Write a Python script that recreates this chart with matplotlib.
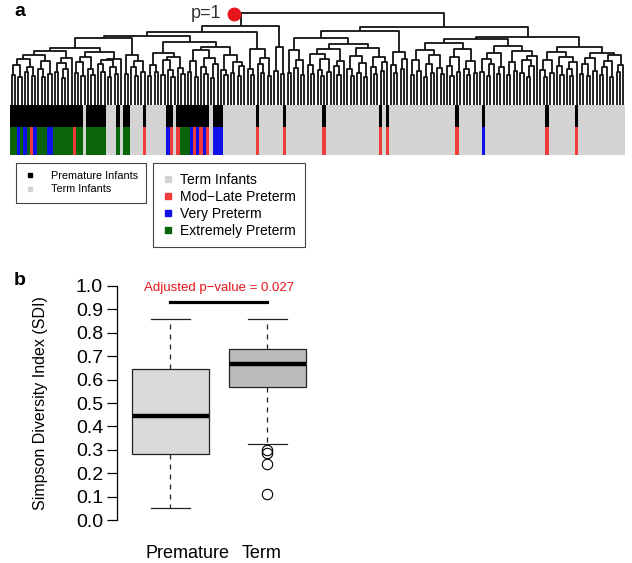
import numpy as np
import matplotlib.pyplot as plt
from matplotlib.collections import LineCollection
from matplotlib.colors import ListedColormap
from matplotlib.lines import Line2D

plt.rcParams['font.family'] = ['Liberation Sans', 'DejaVu Sans']

#%% panel a data
# gestational class of each leaf in dendrogram order
# E = extremely preterm, V = very preterm, M = mod-late preterm, T = term
leaf_class = ("EEVEVEMVEE" "EVVEEEEEEM" "EETEEEEEET" "TTETEETTTT"
              "MTTTTTTVMT" "MEEEVMVMVM" "TVVVTTTTTT" "TTTTMTTTTT"
              "TTMTTTTTTT" "TTTTMTTTTT" "TTTTTTTTTT" "TMTMTTTTTT"
              "TTTTTTTTTT" "TTTTMTTTTT" "TTVTTTTTTT" "TTTTTTTTTT"
              "TMTTTTTTTT" "MTTTTTTTTT" "TTTTT")

# merge height between neighbouring leaves (leaf k and k+1)
merge_heights = (
    [30, 40, 28, 46, 33, 38, 29, 50, 36, 28, 44, 31, 54, 33, 42, 27, 36, 47]
    + [57]
    + [32, 43, 29, 48, 36, 30, 53, 41, 33, 45, 28, 38, 31, 46]
    + [67]
    + [31, 50, 38, 29, 44, 33]
    + [69]
    + [29, 40, 33, 52, 30, 45, 35, 28, 48, 37, 31]
    + [63]
    + [33, 44, 28, 55, 38, 31, 47, 27, 41, 58, 35, 30, 50, 32, 43, 29, 39]
    + [73]
    + [36, 30, 56, 41, 32, 47, 29]
    + [79]
    + [34, 58, 31]
    + [92]
    + [32, 55, 37, 45, 30]
    + [67]
    + [40, 31, 51, 35, 29, 46, 33, 56, 39, 30, 44]
    + [61]
    + [36, 29, 49, 32, 42, 28, 57, 38, 31, 48, 34, 43]
    + [74]
    + [40, 32, 53, 36, 46]
    + [78]
    + [30, 45, 34, 55, 28, 41, 32, 50, 37, 31]
    + [62]
    + [39, 29, 48, 33, 56, 36, 30, 44, 32]
    + [66]
    + [33, 46, 29, 41, 52, 31, 38, 59, 30, 43, 34, 54, 32, 45, 28, 39, 49]
    + [68]
    + [35, 28, 45, 32, 53, 39, 30, 48, 36, 29, 43]
    + [58]
    + [31, 41, 29, 47, 34, 52, 30, 38, 44, 28, 50, 33, 40]
)
assert len(merge_heights) == len(leaf_class) - 1

class_codes = {'T': 0, 'M': 1, 'V': 2, 'E': 3}
strip_colors = ['#d3d3d3', '#ee3b3b', '#1010e8', '#0a640a', '#000000']
class_labels = ['Term Infants', 'Mod\u2212Late Preterm', 'Very Preterm',
                'Extremely Preterm']
group_labels = ['Premature Infants', 'Term Infants']

#%% panel b data
groups = ['Premature', 'Term']
whis_lo = [0.05, 0.325]
q1 = [0.282, 0.568]
medians = [0.446, 0.668]
q3 = [0.645, 0.731]
whis_hi = [0.859, 0.859]
outliers = [[], [0.299, 0.285, 0.238, 0.11]]
box_colors = ['#dadada', '#bcbcbc']
p_adj = 0.027
bar_y = 0.93

#%%
W, H = 632, 563
fig = plt.figure(figsize=(W / 100, H / 100), dpi=100)

def fax(x0, y0, x1, y1):
    # axes from pixel box (top-left origin)
    return fig.add_axes([x0 / W, 1 - y1 / H, (x1 - x0) / W, (y1 - y0) / H])

n = len(leaf_class)

# dendrogram
def build(lo, hi, paths):
    if lo == hi:
        return lo, 0.0
    s = lo + int(np.argmax(merge_heights[lo:hi]))
    h = merge_heights[s]
    xl, hl = build(lo, s, paths)
    xr, hr = build(s + 1, hi, paths)
    paths.append([(xl, hl), (xl, h), (xr, h), (xr, hr)])
    return (xl + xr) / 2, h

paths = []
build(0, n - 1, paths)
ax_d = fax(10, 5, 625, 105)
ax_d.add_collection(LineCollection(paths, colors='#111111', linewidths=1.3))
ax_d.set_xlim(-0.5, n - 0.5)
ax_d.set_ylim(0, 100)
ax_d.axis('off')
ax_d.plot([0.364], [0.91], 'o', color='#e8141c', markersize=9,
          transform=ax_d.transAxes, clip_on=False)
ax_d.text(0.343, 0.92, 'p=1', ha='right', va='center', fontsize=13,
          color='#333333', transform=ax_d.transAxes)

# colour strips
cls = np.array([class_codes[c] for c in leaf_class])
grp = np.where(cls > 0, 4, 0)
ax_s = fax(10, 105, 625, 155)
ax_s.pcolormesh(np.arange(n + 1) - 0.5, [0, 28, 50], np.vstack([cls, grp]),
                cmap=ListedColormap(strip_colors), vmin=-0.5, vmax=4.5)
ax_s.set_xlim(-0.5, n - 0.5)
ax_s.set_ylim(0, 50)
ax_s.axis('off')

h1 = [Line2D([], [], marker='s', ls='none', color=c, markersize=3.2)
      for c in [strip_colors[4], strip_colors[0]]]
fig.legend(h1, group_labels, loc='upper left',
           bbox_to_anchor=(16 / W, 1 - 163 / H), fontsize=7.8,
           frameon=True, fancybox=False, edgecolor='#444444', framealpha=1,
           borderaxespad=0, borderpad=0.75, labelspacing=0.3,
           handlelength=1.0, handletextpad=1.5).get_frame().set_linewidth(0.8)
h2 = [Line2D([], [], marker='s', ls='none', color=c, markersize=3.8)
      for c in strip_colors[:4]]
fig.legend(h2, class_labels, loc='upper left',
           bbox_to_anchor=(153 / W, 1 - 163 / H), fontsize=10,
           frameon=True, fancybox=False, edgecolor='#444444', framealpha=1,
           borderaxespad=0, borderpad=0.69, labelspacing=0.22,
           handlelength=0.78, handletextpad=0.47).get_frame().set_linewidth(0.8)

fig.text(20 / W, 1 - 12 / H, 'a', fontsize=14, fontweight='bold',
         ha='center', va='center')
fig.text(20 / W, 1 - 280 / H, 'b', fontsize=14, fontweight='bold',
         ha='center', va='center')

#%% panel b
ax = fax(117, 276.6, 320.7, 529.4)
stats = []
for i in range(len(groups)):
    stats.append(dict(med=medians[i], q1=q1[i], q3=q3[i], whislo=whis_lo[i],
                      whishi=whis_hi[i], fliers=outliers[i]))
bp = ax.bxp(stats, positions=[1, 2], widths=0.8, patch_artist=True,
            boxprops=dict(edgecolor='#222222', linewidth=0.9),
            medianprops=dict(color='black', linewidth=3.2),
            whiskerprops=dict(color='#222222', linestyle=(0, (4, 4)),
                              linewidth=0.9),
            capprops=dict(color='#222222', linewidth=0.9),
            flierprops=dict(marker='o', markerfacecolor='none',
                            markeredgecolor='black', markersize=7.5,
                            markeredgewidth=0.8))
for patch, c in zip(bp['boxes'], box_colors):
    patch.set_facecolor(c)

ax.plot([1, 2], [bar_y, bar_y], color='black', lw=2.3)
ax.text(1.5, 0.99, 'Adjusted p\u2212value = %.3f' % p_adj, color='#e8141c',
        ha='center', va='center', fontsize=9.5)

ax.set_xlim(0.45, 2.55)
ax.set_ylim(-0.04, 1.04)
ax.set_yticks(np.arange(0, 1.01, 0.1))
ax.set_yticklabels(['%.1f' % v for v in np.arange(0, 1.01, 0.1)])
ax.tick_params(axis='y', labelsize=14, length=7, width=0.9, pad=3)
ax.set_xticks([1.18, 1.94])
ax.set_xticklabels(groups, fontsize=13)
ax.tick_params(axis='x', length=0, pad=11)
for s in ['top', 'right', 'bottom']:
    ax.spines[s].set_visible(False)
ax.spines['left'].set_bounds(0, 1)
ax.spines['left'].set_linewidth(0.9)
ax.set_ylabel('Simpson Diversity Index (SDI)', fontsize=11.5, labelpad=20)

fig.savefig('out.png', dpi=100)
